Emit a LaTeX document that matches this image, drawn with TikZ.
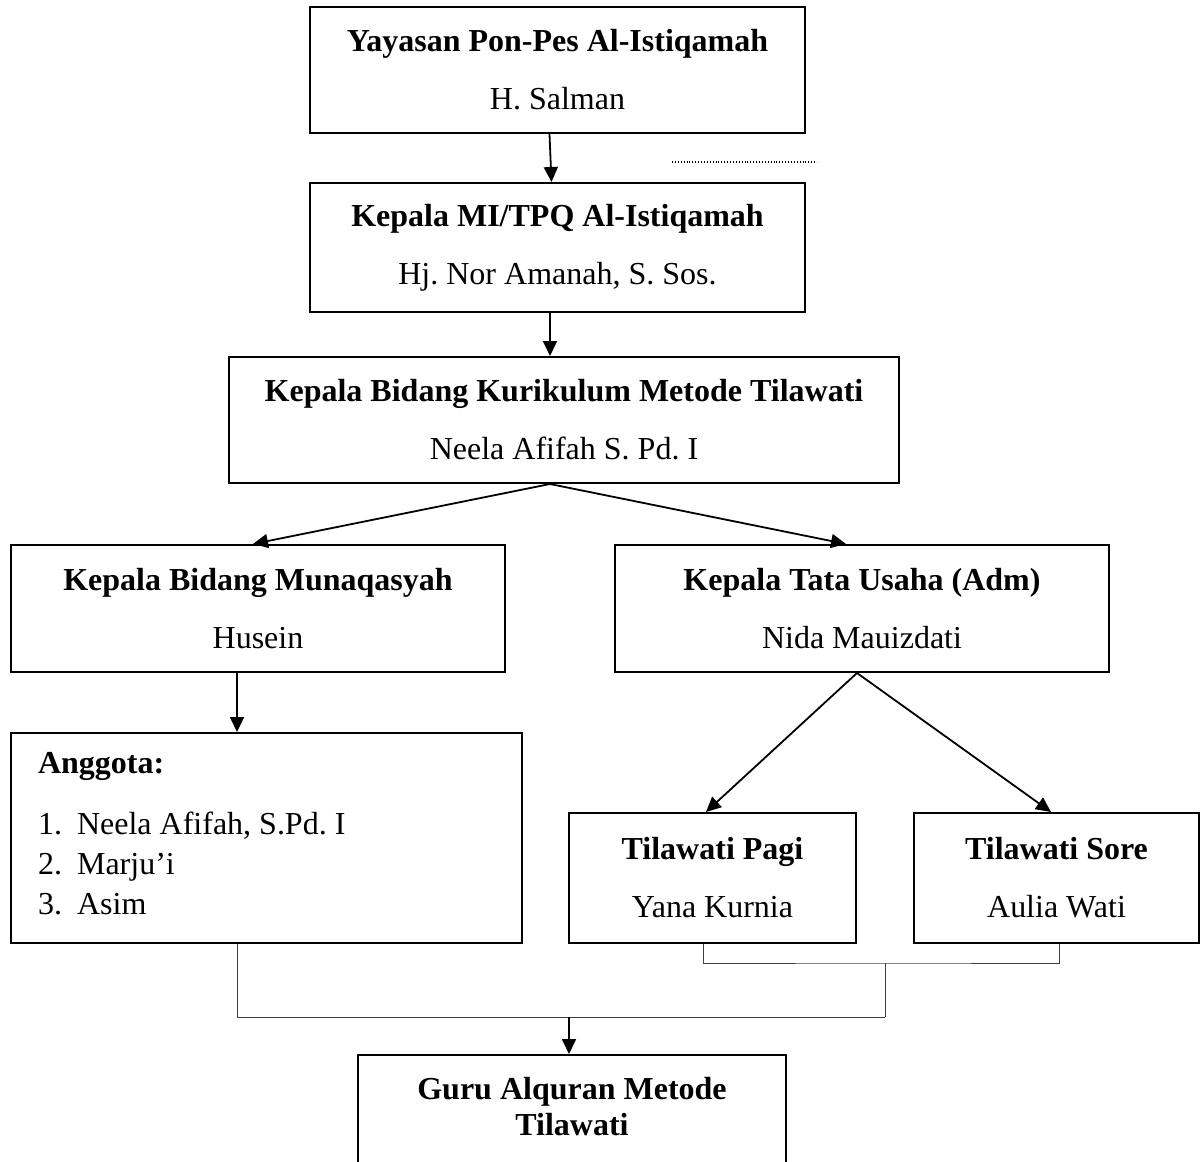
\documentclass[tikz,border=0pt]{standalone}
\usepackage{fontspec}
\setmainfont{Liberation Serif}
\usetikzlibrary{arrows.meta,positioning,calc}
\frenchspacing

\newcommand{\unitlabel}[2]{\textbf{#1}\\[9.8pt]#2}

\begin{document}
\begin{tikzpicture}[x=0.5pt,y=-0.5pt,font=\fontsize{16}{19.2}\selectfont,
  orgbox/.style={draw,line width=1pt,rectangle,align=center,inner sep=0pt},
  arr/.style={-{Triangle[length=7.5pt,width=7pt]},line width=0.9pt},
  link/.style={line width=0.5pt,black!75}]
\useasboundingbox (0,0) rectangle (1201,1162);
% top of the chart
\node[orgbox,minimum width=247.5pt,minimum height=63pt] (yayasan) at (557.5,70) {\unitlabel{Yayasan Pon-Pes Al-Istiqamah}{H. Salman}};
\node[orgbox,minimum width=247.5pt,minimum height=64.5pt] (kepala) at (557.5,247.5) {\unitlabel{Kepala MI/TPQ Al-Istiqamah}{Hj. Nor Amanah, S. Sos.}};
\node[orgbox,minimum width=335pt,minimum height=63pt] (kurikulum) at (564,420) {\unitlabel{Kepala Bidang Kurikulum Metode Tilawati}{Neela Afifah S. Pd. I}};
\draw[dash pattern=on 0.5pt off 0.95pt,line width=0.6pt] (672,162) -- (817,162);
% second level
\node[orgbox,minimum width=247pt,minimum height=63.5pt] (munaqasyah) at (258,608.5) {\unitlabel{Kepala Bidang Munaqasyah}{Husein}};
\node[orgbox,minimum width=247pt,minimum height=63.5pt] (tatausaha) at (862,608.5) {\unitlabel{Kepala Tata Usaha (Adm)}{Nida Mauizdati}};
% members
\node[orgbox,minimum width=255.5pt,minimum height=105pt] (anggota) at (266.5,838) {};
\node[anchor=base west,font=\fontsize{16}{19.2}\selectfont\bfseries] (anggotahead) at (31,773) {Anggota:};
\foreach \y/\nr/\nm in {834/1./{Neela Afifah, S.Pd. I},874/2./{Marju’i},914/3./Asim}{
  \node[anchor=base west] (nr\nr) at (31,\y) {\nr};
  \node[anchor=base west] (nm\nr) at (70,\y) {\nm};
}
\node[orgbox,minimum width=143.5pt,minimum height=65pt] (pagi) at (712.5,878) {\unitlabel{Tilawati Pagi}{Yana Kurnia}};
\node[orgbox,minimum width=142.5pt,minimum height=65pt] (sore) at (1056.5,878) {\unitlabel{Tilawati Sore}{Aulia Wati}};
% bottom
\node[orgbox,anchor=north,minimum width=214pt,minimum height=100pt] (guru) at (572,1054) {};
\node[anchor=north,align=center,font=\fontsize{16}{18.2}\selectfont\bfseries] (gurulabel) at ([yshift=-8pt]guru.north) {Guru Alquran Metode\\Tilawati};
% arrows
\draw[arr] ([xshift=-4pt]yayasan.south) -- ([xshift=-3pt]kepala.north);
\draw[arr] ([xshift=-3.75pt]kepala.south) -- ([xshift=-7pt]kurikulum.north);
\draw[arr] ([xshift=-7pt]kurikulum.south) -- ([xshift=-2.5pt]munaqasyah.north);
\draw[arr] ([xshift=-7pt]kurikulum.south) -- ([xshift=-8pt]tatausaha.north);
\draw[arr] ([xshift=-14.75pt]anggota.north |- munaqasyah.south) -- ([xshift=-14.75pt]anggota.north);
\draw[arr] ([xshift=-2.5pt]tatausaha.south) -- ([xshift=-3.25pt]pagi.north);
\draw[arr] ([xshift=-2.5pt]tatausaha.south) -- ([xshift=-2.75pt]sore.north);
% joining lines
\coordinate (bracket) at (885,963);
\coordinate (bus) at (885,1017);
\draw[link] ([xshift=-4.75pt]pagi.south) |- (bracket) -| ([xshift=1.25pt]sore.south);
\draw[link] (bracket) -- (bus);
\draw[link] ([xshift=-14.75pt]anggota.south) |- (bus);
\draw[arr] ([xshift=-1.5pt]guru.north |- bus) -- ([xshift=-1.5pt]guru.north);
\end{tikzpicture}
\end{document}
